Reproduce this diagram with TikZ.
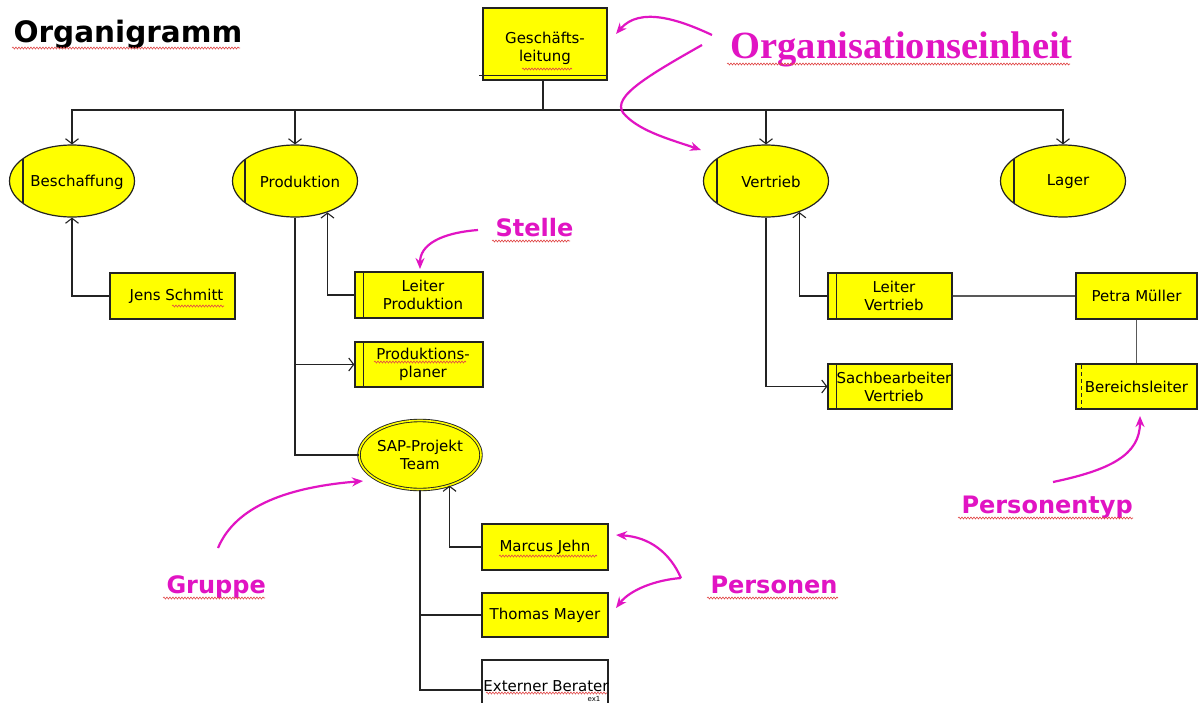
\documentclass[tikz,border=0pt]{standalone}
\usepackage{fontspec}
\usetikzlibrary{shapes.geometric,arrows.meta,calc,decorations.pathmorphing}
\newfontfamily\labelfont{DejaVu Sans}
\newfontfamily\headfont{Liberation Serif}
\definecolor{unitfill}{RGB}{255,255,0}
\definecolor{note}{RGB}{225,20,195}
\definecolor{edge}{RGB}{35,35,35}
\definecolor{spell}{RGB}{225,70,70}

% vertical stripe at the left of a box
\newcommand\boxstripe[2][]{\draw[edge,line width=1.1pt,#1] ([xshift=9pt]#2.north west) -- ([xshift=9pt]#2.south west);}
% vertical stripe at the left of an ellipse
\newcommand\unitstripe[2]{\draw[edge,line width=1.1pt] ($(#1.center)+(-#2,-22)$) -- ($(#1.center)+(-#2,22)$);}

\begin{document}
\begin{tikzpicture}[x=1pt,y=-1pt,
  every node/.style={font=\labelfont\fontsize{15}{18}\selectfont, text=black},
  unit/.style={ellipse, draw=edge, line width=1.2pt, fill=unitfill,
    minimum width=125pt, minimum height=72pt, inner sep=0pt},
  group/.style={ellipse, draw=edge, line width=0.9pt, double=unitfill,
    double distance=1.6pt, fill=unitfill,
    minimum width=122pt, minimum height=69pt, inner sep=0pt, align=center},
  posbox/.style={rectangle, draw=edge, line width=1.2pt, fill=unitfill,
    minimum width=125pt, minimum height=46pt, inner sep=0pt, align=center},
  conn/.style={draw=edge, line width=1.1pt},
  barb/.style={conn, -{Straight Barb[length=5pt,width=13pt]}},
  notearrow/.style={draw=note, line width=2.2pt, -{Stealth[length=11pt,width=9pt]}},
  notelabel/.style={anchor=base west, text=note,
    font=\labelfont\bfseries\fontsize{24}{28}\selectfont},
  squiggle/.style={draw=spell, line width=0.6pt,
    decorate, decoration={snake, amplitude=1pt, segment length=3pt}}
]
\useasboundingbox[fill=white] (0,0) rectangle (1202,702);

% ---- title and headline label
\node[anchor=base west, font=\labelfont\bfseries\fontsize{29.5}{34}\selectfont] (title) at (10,42) {Organigramm};
\node[anchor=base west, text=note, font=\headfont\bfseries\fontsize{38.5}{44}\selectfont] (ou) at (727,58) {Organisationseinheit};

% ---- management box
\node[posbox, minimum width=124pt, minimum height=72pt] (gl) at (545,44) {};
\node (gltext) at (545,48) [align=center] {Geschäfts-\\leitung};
\draw[edge, line width=1.2pt] ([shift={(-3,-5)}]gl.south west) -- ([shift={(0,-5)}]gl.south east);

% ---- organisational units
\node[unit] (besch) at (72,181) {};
\node[xshift=5pt, yshift=-1pt] at (besch) {Beschaffung};
\node[unit] (prod) at (295,181) {};
\node[xshift=5pt, yshift=-1pt] at (prod) {Produktion};
\node[unit] (vertr) at (766,181) {};
\node[xshift=5pt, yshift=-1pt] at (vertr) {Vertrieb};
\node[unit] (lager) at (1063,181) {};
\node[xshift=5pt, yshift=-1pt] at (lager) {Lager};
\unitstripe{besch}{49}
\unitstripe{prod}{50}
\unitstripe{vertr}{49}
\unitstripe{lager}{49}

% ---- positions and persons
\node[posbox] (jens) at (172.5,296) {\hspace*{8pt}Jens Schmitt};
\node[posbox, minimum width=128pt] (leiterP) at (419,295) {\hspace*{8pt}Leiter\\\hspace*{8pt}Produktion};
\node[posbox, minimum width=128pt, minimum height=45pt] (planer) at (419,364.5) {\hspace*{8pt}Produktions-\\\hspace*{8pt}planer};
\node[group] (sap) at (420,455) {SAP-Projekt\\Team};
\node[posbox, minimum width=126pt] (marcus) at (545,547) {Marcus Jehn};
\node[posbox, minimum width=126pt, minimum height=44pt] (thomas) at (545,615) {Thomas Mayer};
\node[posbox, minimum width=126pt, minimum height=60pt, fill=white] (extern) at (545,690) {};
\node at (546,686) {Externer Berater};
\node[font=\labelfont\fontsize{7}{8}\selectfont] (exmark) at (594,699) {ex1};
\node[posbox, minimum width=124pt] (leiterV) at (890,296) {\hspace*{8pt}Leiter\\\hspace*{8pt}Vertrieb};
\node[posbox, minimum width=124pt, minimum height=45pt] (sachb) at (890,386.5) {\hspace*{8pt}Sachbearbeiter\\\hspace*{8pt}Vertrieb};
\node[posbox, minimum width=121pt] (petra) at (1136.5,296) {Petra Müller};
\node[posbox, minimum width=121pt, minimum height=45pt] (bereich) at (1136.5,386.5) {Bereichsleiter};
\boxstripe{leiterP}
\boxstripe{planer}
\boxstripe{leiterV}
\boxstripe{sachb}
\draw[edge, line width=1pt, dash pattern=on 4pt off 3pt] ([shift={(6,2)}]bereich.north west) -- ([shift={(6,-2)}]bereich.south west);

% ---- hierarchy connectors
\coordinate (bus) at (543,110);
\draw[conn] ([xshift=-2pt]gl.south) -- (bus);
\draw[barb] (bus) -| (besch.north);
\draw[barb] (bus) -| (prod.north);
\draw[barb] (bus) -| (vertr.north);
\draw[barb] (bus) -| (lager.north);

\draw[barb] (jens.west) -| (besch.south);
\draw[barb] (leiterP.west) -| (prod.-44);
\draw[conn] (prod.south) |- (sap.west);
\draw[barb] (prod.south |- planer.west) -- (planer.west);

\draw[barb] (marcus.west) -| (sap.-46);
\draw[conn] (sap.south) |- (extern.west);
\draw[conn] (sap.south |- thomas.west) -- (thomas.west);

\draw[barb] (leiterV.west) -| (vertr.-43);
\draw[barb] (vertr.south) |- (sachb.west);
\draw[draw=black!65, line width=1.2pt] (leiterV.east) -- (petra.west);
\draw[draw=black!65, line width=1.2pt] (petra.south) -- (bereich.north);

% ---- annotation labels
\node[notelabel] (stelle) at (492,236) {Stelle};
\node[notelabel] (gruppe) at (163,593) {Gruppe};
\node[notelabel] (personen) at (707,593) {Personen};
\node[notelabel] (ptyp) at (958,513) {Personentyp};

% ---- annotation arrows
\coordinate (ouA) at (712,35);
\coordinate (ouB) at (702,45);
\coordinate (glT) at (616,34);
\coordinate (vtT) at (701,150);
\coordinate (stA) at (478,230);
\coordinate (stT) at (420,269);
\coordinate (grA) at (218,548);
\coordinate (grT) at (363,481);
\coordinate (peA) at (681,578);
\coordinate (peT1) at (616,535);
\coordinate (peT2) at (616,608);
\coordinate (ptA) at (1053,482);
\coordinate (ptT) at (1140,416);
\draw[notearrow] (ouA) .. controls (680,20) and (640,6) .. (glT);
\draw[notearrow] (ouB) .. controls (640,80) and (608,100) .. (626,116) .. controls (642,132) and (672,140) .. (vtT);
\draw[notearrow] (stA) .. controls (440,233) and (420,245) .. (stT);
\draw[notearrow] (grA) .. controls (236,505) and (290,487) .. (grT);
\draw[notearrow] (peA) .. controls (670,553) and (650,537) .. (peT1);
\draw[notearrow] (peA) .. controls (655,580) and (630,590) .. (peT2);
\draw[notearrow] (ptA) .. controls (1110,470) and (1140,455) .. (ptT);

% ---- spell-check underlines
\draw[squiggle] (12,48) -- (240,48);
\draw[squiggle] (727,64) -- (1070,64);
\draw[squiggle] (492,241) -- (570,241);
\draw[squiggle] (163,598) -- (265,598);
\draw[squiggle] (707,598) -- (838,598);
\draw[squiggle] (958,518) -- (1133,518);
\draw[squiggle] (522,69) -- (572,69);
\draw[squiggle] (172,306) -- (224,306);
\draw[squiggle] (374,362) -- (466,362);
\draw[squiggle] (499,556) -- (597,556);
\draw[squiggle] (486,693) -- (607,693);
\end{tikzpicture}
\end{document}
